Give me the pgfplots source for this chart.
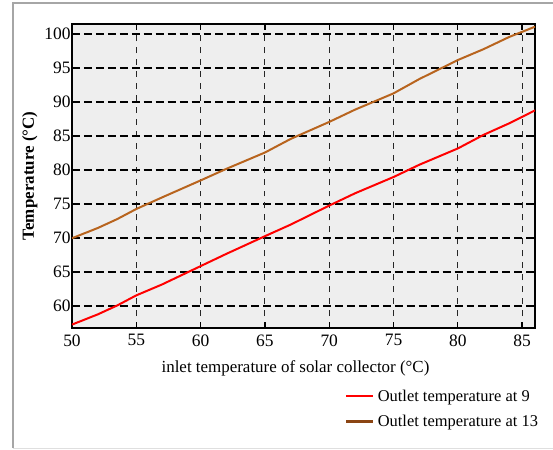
\documentclass[border=0pt]{standalone}
\usepackage{pgfplots}
\pgfplotsset{compat=1.18}
\usepackage{fontspec}
\setmainfont{Liberation Serif}
\definecolor{brownline}{RGB}{184,100,30}
\definecolor{brownleg}{RGB}{139,69,19}
\definecolor{bggray}{RGB}{238,238,238}
\begin{document}
\begin{tikzpicture}
\useasboundingbox (-72bp,-122bp) rectangle (481bp,328bp);
\draw[gray!70, line width=1.5pt] (-59bp,-120bp) -- (-59bp,325bp) -- (481bp,325bp);
\draw[gray!25, line width=1pt] (-59bp,-120bp) -- (481bp,-120bp);
\begin{axis}[
  at={(0,0)}, anchor=south west,
  scale only axis, width=463bp, height=304bp,
  xmin=50, xmax=86, ymin=56.8, ymax=101.5,
  xtick={50,55,60,70,75,80,85},
  ytick={60,70,75,80,90,95,100},
  extra x ticks={65},
  extra y ticks={65,85},
  extra x tick style={grid style={black, line width=2.2pt, dash pattern=on 5pt off 3pt}},
  extra y tick style={grid style={gray, line width=1.3pt, dash pattern=on 7pt off 4pt}},
  xmajorgrids, ymajorgrids,
  major x grid style={black!85, line width=1pt, dash pattern=on 6pt off 6pt},
  major y grid style={black, line width=1.8pt, dash pattern=on 8pt off 4pt},
  axis background/.style={fill=bggray},
  axis line style={black, line width=2pt},
  tick style={black, line width=1.3pt},
  tick align=inside,
  major tick length=6bp,
  tick label style={font=\fontsize{17.5}{19}\selectfont},
  xticklabel style={yshift=-3bp},
  yticklabel style={xshift=2bp},
  /pgf/number format/assume math mode=true,
  xlabel={inlet temperature of solar collector (°C)},
  ylabel={\textbf{Temperature (°C)}},
  label style={font=\fontsize{17}{19}\selectfont},
  xlabel style={yshift=-7bp, xshift=-8bp},
  legend style={at={(1.022,-0.19)}, anchor=north east, draw=none, fill=none,
    font=\fontsize{16.5}{18}\selectfont, row sep=8bp,
    /tikz/every even column/.append style={column sep=0pt},
    nodes={inner xsep=4bp}},
  legend cell align=left,
  legend image code/.code={\draw[#1] (0cm,0cm) -- (0.92cm,0cm);},
]
\addplot[red, line width=2pt] coordinates {
(50,57.3) (52,58.8) (53.5,60.1) (55,61.6) (57,63.2) (60,65.9) (62,67.7) (65,70.3)
(67,72.0) (70,74.8) (72,76.6) (75,79.0) (77,80.8) (80,83.2) (82,85.2) (84,86.9) (86,88.8)};
\addlegendentry{Outlet temperature at 9}
\addplot[brownline, line width=2pt, forget plot] coordinates {
(50,70.0) (52,71.5) (53.5,72.8) (55,74.3) (57,76.0) (60,78.5) (62,80.2) (65,82.6)
(67,84.6) (70,87.1) (72,88.9) (75,91.3) (77,93.4) (80,96.2) (82,97.8) (84,99.6) (86,101.1)};
\addlegendimage{brownleg, line width=2.5pt}
\addlegendentry{Outlet temperature at 13}
\end{axis}
\end{tikzpicture}
\end{document}
